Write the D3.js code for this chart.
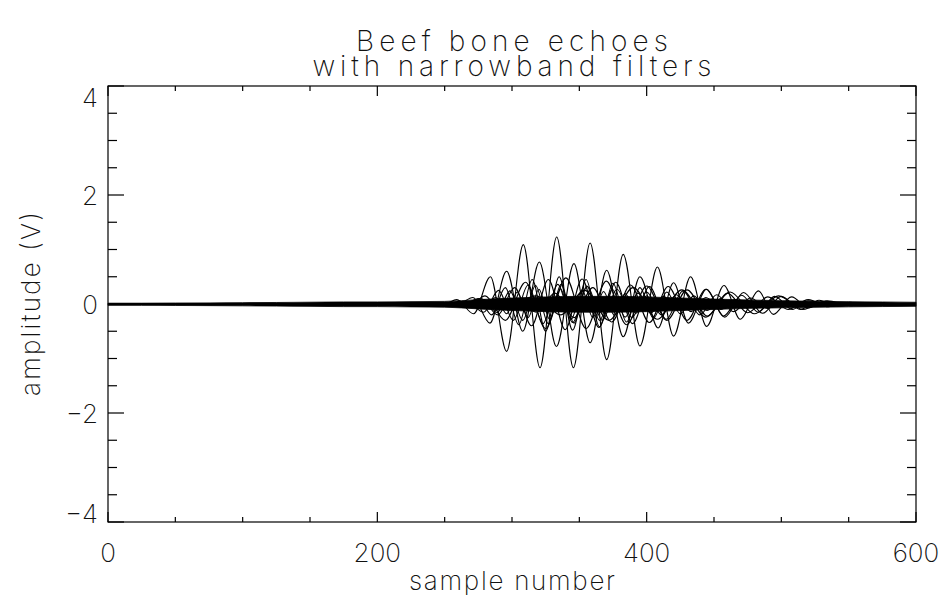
<!DOCTYPE html>
<html>
<head>
<meta charset="utf-8">
<script src="https://cdn.jsdelivr.net/npm/d3@7"></script>
<style>
  html, body { margin: 0; padding: 0; background: #fff; }
  svg text { font-family: "Inter", "DejaVu Sans", sans-serif; font-weight: 200; fill: #111; }
</style>
</head>
<body>
<svg id="chart" width="945" height="602"></svg>
<script>
// Echo traces after each narrowband filter: turning points [sample, amplitude (V)]
const traceA = [[0,0],[250,0],[259,0.08],[271.5,-0.18],[284,0.50],[296,-0.87],[308.4,1.09],[320.8,-1.17],[333.2,1.23],[345.6,-1.17],[358,1.12],[370.3,-1.02],[382.6,0.91],[395,-0.77],[408,0.68],[420,-0.59],[432.6,0.50],[444.5,-0.41],[457.4,0.34],[469.5,-0.28],[483,0.24],[494,-0.19],[507.6,0.13],[520,-0.07],[533,0.05],[545,0],[600,0]];
const traceB = [[0,0],[260,0],[271,0.12],[283.6,-0.35],[296,0.60],[308,-0.50],[320.3,0.77],[333,-0.78],[346,0.74],[358,-0.71],[370.3,0.62],[382.6,-0.60],[395,0.50],[408.5,-0.44],[420,0.39],[431,-0.35],[444.5,0.27],[457,-0.22],[470.5,0.16],[483,-0.15],[495,0.14],[508,-0.10],[520,0.06],[535,0],[600,0]];
const traceC = [[0,0],[265,0],[275,0.10],[285,-0.20],[295,0.30],[305,-0.38],[315,0.45],[325,-0.50],[335,0.50],[345,-0.48],[355,0.45],[365,-0.42],[375,0.38],[385,-0.33],[395,0.30],[405,-0.26],[415,0.22],[425,-0.18],[435,0.15],[445,-0.12],[455,0.10],[465,-0.07],[475,0.05],[490,0],[600,0]];
const traceD = [[0,0],[270,0],[280,0.15],[295,-0.30],[310,0.40],[325,-0.45],[340,0.48],[355,-0.45],[370,0.42],[385,-0.38],[400,0.33],[415,-0.30],[430,0.26],[445,-0.22],[460,0.20],[475,-0.16],[490,0.13],[505,-0.10],[520,0.08],[535,-0.05],[550,0.03],[565,0],[600,0]];
const traceE = [[0,0],[268,0],[279,-0.15],[290,0.25],[301,-0.30],[312,0.35],[323,-0.36],[334,0.36],[345,-0.34],[356,0.32],[367,-0.30],[378,0.27],[389,-0.25],[400,0.22],[411,-0.20],[422,0.17],[433,-0.14],[444,0.12],[455,-0.10],[466,0.08],[478,-0.05],[495,0],[600,0]];
const traceF = [[0,0],[300,0],[318,0.15],[336,-0.20],[354,0.25],[372,-0.30],[390,0.30],[408,-0.28],[426,0.26],[444,-0.24],[462,0.22],[480,-0.18],[498,0.15],[516,-0.10],[534,0.06],[552,-0.03],[570,0],[600,0]];
const traceG = [[0,0],[280,0],[288,0.12],[296,-0.18],[304,0.22],[312,-0.25],[320,0.27],[328,-0.28],[336,0.28],[344,-0.28],[352,0.26],[360,-0.25],[368,0.23],[376,-0.21],[384,0.19],[392,-0.17],[400,0.15],[408,-0.13],[416,0.11],[424,-0.09],[432,0.07],[440,-0.05],[455,0],[600,0]];
const traceH = [[0,0],[265,0],[277,0.10],[289.5,-0.20],[302,0.30],[314.5,-0.40],[327,0.45],[339.5,-0.47],[352,0.46],[364.5,-0.43],[377,0.40],[389.5,-0.36],[402,0.32],[414.5,-0.28],[427,0.24],[439.5,-0.20],[452,0.17],[464.5,-0.14],[477,0.11],[489.5,-0.08],[502,0.05],[515,0],[600,0]];
const traceI = [[0,0],[290,0],[304,0.10],[318,-0.15],[332,0.20],[346,-0.25],[360,0.30],[374,-0.33],[388,0.35],[402,-0.34],[416,0.32],[430,-0.30],[444,0.27],[458,-0.24],[472,0.21],[486,-0.17],[500,0.14],[514,-0.10],[528,0.07],[542,-0.04],[556,0],[600,0]];
const traceJ = [[0,0],[270,0],[279.5,0.08],[289,-0.16],[298.5,0.24],[308,-0.30],[317.5,0.34],[327,-0.36],[336.5,0.36],[346,-0.35],[355.5,0.33],[365,-0.30],[374.5,0.27],[384,-0.24],[393.5,0.20],[403,-0.17],[412.5,0.14],[422,-0.11],[431.5,0.08],[441,-0.05],[455,0],[600,0]];
const traces = [traceA, traceB, traceC, traceD, traceE, traceF, traceG, traceH, traceI, traceJ];

// Noise floor shared by all filter outputs: sample, upper and lower extent (V)
const noiseSamples = [0,25,50,75,100,125,150,175,200,225,250,275,300,325,350,375,400,425,450,475,500,525,550,575,600];
const noiseUpper   = [0.015,0.015,0.018,0.02,0.024,0.028,0.033,0.038,0.038,0.043,0.048,0.08,0.11,0.13,0.14,0.14,0.13,0.11,0.09,0.075,0.06,0.05,0.042,0.037,0.032];
const noiseLower   = [-0.025,-0.025,-0.027,-0.03,-0.034,-0.038,-0.043,-0.048,-0.048,-0.053,-0.058,-0.09,-0.12,-0.14,-0.15,-0.15,-0.14,-0.12,-0.10,-0.08,-0.07,-0.06,-0.052,-0.047,-0.042];

// Axis ticks
const xMajorTicks = [0, 200, 400, 600];
const xMinorTicks = [50, 100, 150, 250, 300, 350, 450, 500, 550];
const yMajorTicks = [-4, -2, 0, 2, 4];
const yMinorTicks = [-3.5, -3, -2.5, -1.5, -1, -0.5, 0.5, 1, 1.5, 2.5, 3, 3.5];

const titleLines = ["Beef bone echoes", "with narrowband filters"];
const xTitle = "sample number";
const yTitle = "amplitude (V)";

const svg = d3.select("#chart");
const plotL = 108, plotR = 916, plotT = 86, plotB = 522;
const x = d3.scaleLinear().domain([0, 600]).range([plotL, plotR]);
const y = d3.scaleLinear().domain([-4, 4]).range([plotB, plotT]);

// Noise band
const noise = noiseSamples.map((s, i) => ({ s, hi: noiseUpper[i], lo: noiseLower[i] }));
svg.append("path")
  .datum(noise)
  .attr("fill", "#000")
  .attr("stroke", "#000")
  .attr("stroke-width", 0.8)
  .attr("d", d3.area().x(d => x(d.s)).y0(d => y(d.lo)).y1(d => y(d.hi)).curve(d3.curveMonotoneX));

// Filtered echo traces
const line = d3.line().x(d => x(d[0])).y(d => y(d[1])).curve(d3.curveMonotoneX);
svg.append("g").selectAll("path")
  .data(traces)
  .join("path")
  .attr("fill", "none")
  .attr("stroke", "#000")
  .attr("stroke-width", 1.1)
  .attr("d", line);

// Frame
svg.append("rect")
  .attr("x", plotL).attr("y", plotT)
  .attr("width", plotR - plotL).attr("height", plotB - plotT)
  .attr("fill", "none").attr("stroke", "#000").attr("stroke-width", 1.2);

const ticks = svg.append("g").attr("stroke", "#000").attr("stroke-width", 1.2);
function xTicks(vals, len) {
  vals.forEach(v => {
    ticks.append("line").attr("x1", x(v)).attr("x2", x(v)).attr("y1", plotB).attr("y2", plotB - len);
    ticks.append("line").attr("x1", x(v)).attr("x2", x(v)).attr("y1", plotT).attr("y2", plotT + len);
  });
}
function yTicks(vals, len) {
  vals.forEach(v => {
    ticks.append("line").attr("y1", y(v)).attr("y2", y(v)).attr("x1", plotL).attr("x2", plotL + len);
    ticks.append("line").attr("y1", y(v)).attr("y2", y(v)).attr("x1", plotR).attr("x2", plotR - len);
  });
}
xTicks(xMajorTicks, 10);
xTicks(xMinorTicks, 5);
yTicks(yMajorTicks, 16);
yTicks(yMinorTicks, 9);

// Tick labels
svg.append("g").selectAll("text")
  .data(xMajorTicks)
  .join("text")
  .attr("x", d => x(d)).attr("y", 562)
  .attr("text-anchor", "middle")
  .attr("font-size", 26)
  .text(d => String(d));

const yLabelPos = v => v === 4 ? y(v) + 11 : v === -4 ? y(v) - 9 : y(v);
svg.append("g").selectAll("text")
  .data(yMajorTicks)
  .join("text")
  .attr("x", 98).attr("y", d => yLabelPos(d) + 9.5)
  .attr("text-anchor", "end")
  .attr("font-size", 26)
  .text(d => d < 0 ? "\u2212" + Math.abs(d) : String(d));

// Titles
const titleWidths = [312, 399];
svg.append("g").selectAll("text")
  .data(titleLines)
  .join("text")
  .attr("x", (plotL + plotR) / 2)
  .attr("y", (d, i) => 51 + i * 25)
  .attr("text-anchor", "middle")
  .attr("font-size", 28)
  .attr("textLength", (d, i) => titleWidths[i])
  .attr("lengthAdjust", "spacing")
  .text(d => d);

svg.append("text")
  .attr("x", (plotL + plotR) / 2).attr("y", 590)
  .attr("text-anchor", "middle")
  .attr("font-size", 26)
  .attr("textLength", 206)
  .attr("lengthAdjust", "spacing")
  .text(xTitle);

svg.append("text")
  .attr("transform", `translate(40,${(plotT + plotB) / 2}) rotate(-90)`)
  .attr("text-anchor", "middle")
  .attr("font-size", 26)
  .attr("textLength", 184)
  .attr("lengthAdjust", "spacing")
  .text(yTitle);
</script>
</body>
</html>
